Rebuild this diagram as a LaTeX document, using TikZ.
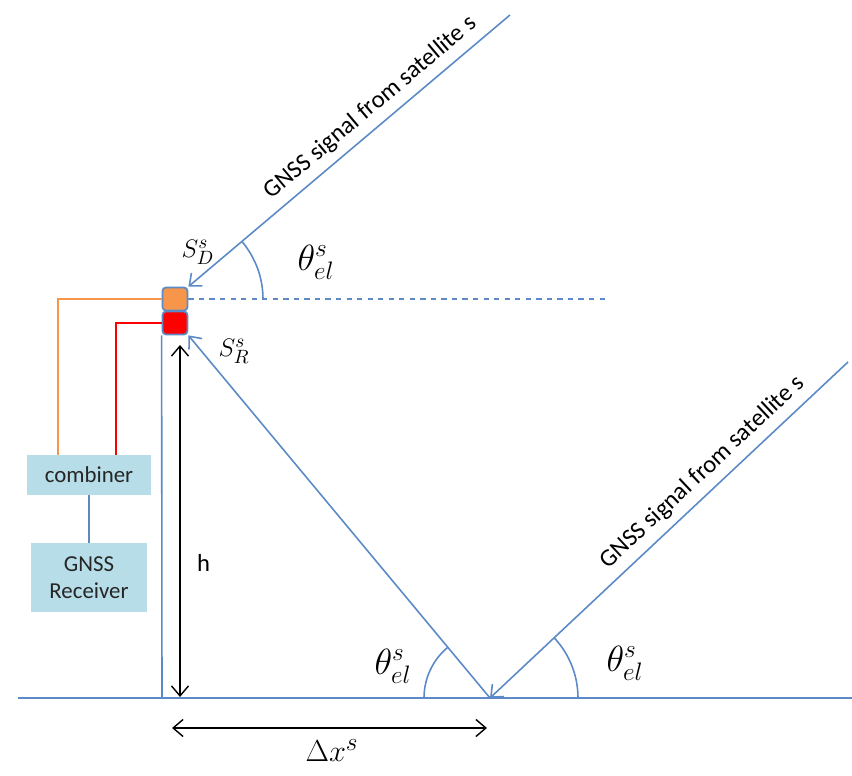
\documentclass[tikz,border=0pt]{standalone}
\usepackage{fontspec}
\setsansfont{Carlito}
\usetikzlibrary{arrows.meta,positioning}
\definecolor{sigblue}{HTML}{5B8AC6}
\definecolor{antorange}{HTML}{F7964A}
\definecolor{boxfill}{HTML}{B7DDE8}

\begin{document}
\begin{tikzpicture}[
    x=0.02cm, y=0.02cm,
    font=\sffamily\fontsize{13}{15.5}\selectfont,
    sig/.style={draw=sigblue, line width=0.9pt},
    sigarrow/.style={sig, -{Straight Barb[length=2mm, width=3.4mm]}},
    dim/.style={black, line width=0.8pt, {Straight Barb[length=2mm, width=3.4mm]}-{Straight Barb[length=2mm, width=3.4mm]}},
    ant/.style={draw=sigblue, line width=1pt, rounded corners=2pt, minimum width=0.5cm, minimum height=0.46cm, inner sep=0pt},
    unit/.style={fill=boxfill, text=black!85, align=center, inner sep=0pt},
    anglbl/.style={font=\fontsize{22}{26}\selectfont},
    sigtext/.style={sloped, above=1pt, font=\sffamily\fontsize{14}{16}\selectfont}
]
\useasboundingbox (0,0) rectangle (852,775);
\coordinate (gl) at (18,77);
\coordinate (gr) at (852,77);
\coordinate (mastfoot) at (162,77);
\coordinate (refl) at (490,77);
\coordinate (sat1) at (510,760);
\coordinate (sat2) at (848,413);
\coordinate (horiz) at (608,476);
\coordinate (htop) at (180,430);
\coordinate (hbot) at (180,78);
\coordinate (dxl) at (172,47);
\coordinate (dxr) at (487,47);

\node[ant, fill=antorange] (antD) at (175,476) {};
\node[ant, fill=red] (antR) at (175,452) {};
\node[unit, minimum width=2.5cm, minimum height=0.8cm] (comb) at (89,300) {combiner};
\node[unit, minimum width=2.32cm, minimum height=1.38cm] (rcv) at (89,197.5) {GNSS\\Receiver};

\draw[sig] (gl) -- (gr);
\draw[sig] (antR.south west) -- (mastfoot);
\draw[sig, dashed] (antD.east) -- (horiz);
\draw[sigarrow] (sat1) -- node[sigtext, pos=0.395] {GNSS signal from satellite s} (antD.north east);
\draw[sigarrow] (sat2) -- node[sigtext, pos=0.37] {GNSS signal from satellite s} (refl);
\draw[sigarrow] (refl) -- (antR.south east);
\draw[antorange, line width=0.9pt] (antD.west) -| ([xshift=0.64cm]comb.north west);
\draw[red, line width=0.9pt] (antR.west) -| ([xshift=1.8cm]comb.north west);
\draw[sig, draw=sigblue!80!gray] (comb) -- (rcv);

\draw[sig] (263,476) arc[start angle=0, end angle=40, radius=89];
\draw[sig] (578,77) arc[start angle=0, end angle=43.2, radius=88];
\draw[sig] (424,77) arc[start angle=180, end angle=130, radius=66];

\draw[dim] (hbot) -- node[right=6pt, pos=0.38, font=\sffamily\fontsize{14}{16}\selectfont] {h} (htop);
\draw[dim] (dxl) -- (dxr);

\node[anglbl] (thD) at (316,513) {$\theta^s_{el}$};
\node[anglbl] (thG) at (625,112) {$\theta^s_{el}$};
\node[anglbl] (thR) at (393,109) {$\theta^s_{el}$};
\node[font=\fontsize{15}{18}\selectfont] (sD) at (198,523) {$S^s_D$};
\node[font=\fontsize{15}{18}\selectfont] (sR) at (234,424) {$S^s_R$};
\node[font=\fontsize{19}{22}\selectfont] (dxlbl) at (332,24) {$\Delta x^s$};
\end{tikzpicture}
\end{document}
